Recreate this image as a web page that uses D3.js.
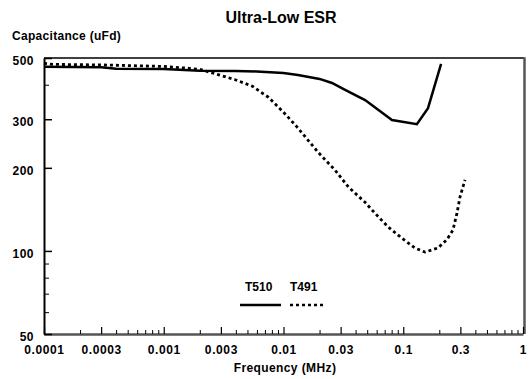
<!DOCTYPE html>
<html>
<head>
<meta charset="utf-8">
<script src="https://d3js.org/d3.v7.min.js"></script>
<style>
body { margin: 0; background: #fff; }
text { font-family: "Liberation Sans", Arial, sans-serif; font-weight: bold; }
</style>
</head>
<body>
<svg width="530" height="379"></svg>
<script>
// frequency (MHz) / capacitance (uFd)
var t510Freq = [0.0001, 0.0003, 0.0004, 0.001, 0.002, 0.004, 0.006, 0.01, 0.0132, 0.02, 0.0254, 0.0327, 0.048, 0.0805, 0.13, 0.161, 0.207];
var t510Cap  = [465, 463, 457, 456, 450, 449, 447, 441, 434, 420, 406, 383, 352, 298, 288, 329, 476];

var t491Freq = [0.0001, 0.00012, 0.0003, 0.001, 0.0015, 0.002, 0.0027, 0.0039, 0.0055, 0.0075, 0.01, 0.013, 0.0194, 0.027, 0.035, 0.048, 0.058, 0.075, 0.098, 0.125, 0.152, 0.195, 0.232, 0.26, 0.281, 0.298, 0.328];
var t491Cap  = [478, 474, 472, 466, 460, 455, 438, 418, 395, 360, 318, 281, 228, 196, 170, 150, 137, 122, 111, 102.5, 99, 102.5, 110, 119, 137, 157, 181];

var xMajor = [0.0001, 0.0003, 0.001, 0.003, 0.01, 0.03, 0.1, 0.3, 1];
var xLabels = ["0.0001", "0.0003", "0.001", "0.003", "0.01", "0.03", "0.1", "0.3", "1"];
var yMajor = [50, 100, 200, 300, 500];
var yMinor = [60, 70, 80, 90, 400];

var svg = d3.select("svg");
var plotLeft = 44, plotRight = 523, plotTop = 58, plotBottom = 334;

var x = d3.scaleLog().domain([0.0001, 1]).range([plotLeft, plotRight]);
var y = d3.scaleLog().domain([50, 500]).range([plotBottom, plotTop]);

// minor x ticks: 2,4..9 per decade
var xMinor = [];
[0.0001, 0.001, 0.01, 0.1].forEach(function(d){
  [2, 4, 5, 6, 7, 8, 9].forEach(function(m){ xMinor.push(d * m); });
});

// frame top / right
svg.append("line").attr("x1", plotLeft).attr("x2", plotRight + 1).attr("y1", plotTop).attr("y2", plotTop)
   .attr("stroke", "#000").attr("stroke-width", 1.5);
svg.append("line").attr("x1", plotRight + 1.5).attr("x2", plotRight + 1.5).attr("y1", plotTop - 0.75).attr("y2", plotBottom)
   .attr("stroke", "#555").attr("stroke-width", 2.5);

// x axis
var xAxis = svg.append("g").attr("transform", "translate(0," + plotBottom + ")")
   .call(d3.axisBottom(x).tickValues(xMajor).tickSizeInner(-7).tickSizeOuter(0)
     .tickFormat(function(d, i){ return xLabels[i]; }));
svg.append("g").attr("transform", "translate(0," + plotBottom + ")")
   .call(d3.axisBottom(x).tickValues(xMinor).tickSizeInner(-4).tickSizeOuter(0).tickFormat(""))
   .select(".domain").remove();
xAxis.select(".domain").attr("stroke", "#555").attr("stroke-width", 2.5);
xAxis.selectAll(".tick line").attr("stroke-width", 1.2);
xAxis.selectAll("text").attr("y", 20).attr("dy", 0).attr("fill", "#000")
   .style("font-size", "12px").style("letter-spacing", "0.6px");

// y axis
var yAxis = svg.append("g").attr("transform", "translate(" + plotLeft + ",0)")
   .call(d3.axisLeft(y).tickValues(yMajor).tickSizeInner(-8).tickSizeOuter(0).tickFormat(d3.format("d")));
svg.append("g").attr("transform", "translate(" + plotLeft + ",0)")
   .call(d3.axisLeft(y).tickValues(yMinor).tickSizeInner(-5).tickSizeOuter(0).tickFormat(""))
   .select(".domain").remove();
yAxis.select(".domain").attr("stroke", "#000").attr("stroke-width", 2);
yAxis.selectAll(".tick line").attr("stroke-width", 1.5);
yAxis.selectAll("text").attr("x", -10).attr("dy", "0.55em").attr("fill", "#000")
   .style("font-size", "12px").style("letter-spacing", "0.5px");

svg.selectAll(".tick line").attr("stroke", "#000");

var line = d3.line().x(function(d){ return x(d[0]); }).y(function(d){ return y(d[1]); });

svg.append("path").datum(d3.zip(t510Freq, t510Cap)).attr("d", line)
   .attr("fill", "none").attr("stroke", "#000").attr("stroke-width", 2.5);
svg.append("path").datum(d3.zip(t491Freq, t491Cap)).attr("d", line)
   .attr("fill", "none").attr("stroke", "#000").attr("stroke-width", 2.8)
   .attr("stroke-dasharray", "3,3");

// titles
svg.append("text").attr("x", 281).attr("y", 23).attr("text-anchor", "middle")
   .style("font-size", "16px").text("Ultra-Low ESR");
svg.append("text").attr("x", 12).attr("y", 40)
   .style("font-size", "12px").style("letter-spacing", "0.3px").text("Capacitance (uFd)");
svg.append("text").attr("x", 285).attr("y", 372).attr("text-anchor", "middle")
   .style("font-size", "12px").style("letter-spacing", "0.4px").text("Frequency (MHz)");

// legend
var legend = svg.append("g");
legend.append("text").attr("x", 245).attr("y", 291).style("font-size", "12px").text("T510");
legend.append("text").attr("x", 290).attr("y", 291).style("font-size", "12px").text("T491");
legend.append("line").attr("x1", 240).attr("x2", 281).attr("y1", 305).attr("y2", 305)
   .attr("stroke", "#000").attr("stroke-width", 2.5);
legend.append("line").attr("x1", 290).attr("x2", 325).attr("y1", 305).attr("y2", 305)
   .attr("stroke", "#000").attr("stroke-width", 2.5).attr("stroke-dasharray", "3,3");
</script>
</body>
</html>
